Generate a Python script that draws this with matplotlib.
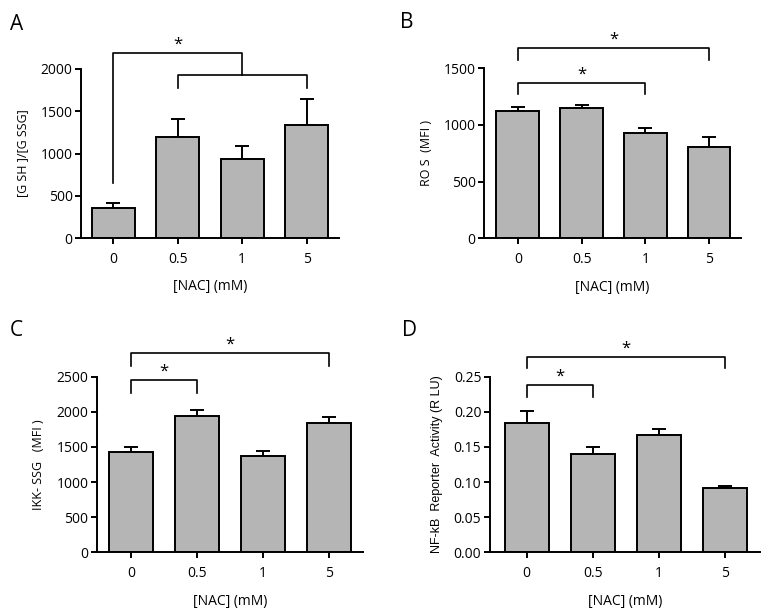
import matplotlib
matplotlib.use("Agg")
import matplotlib.pyplot as plt

plt.rcParams['font.family'] = ['Open Sans', 'DejaVu Sans']

categories = ["0", "0.5", "1", "5"]

a_values = [350, 1190, 935, 1335]
a_errors = [70, 215, 155, 305]
b_values = [1121, 1145, 925, 807]
b_errors = [33, 29, 49, 88]
c_values = [1423, 1936, 1366, 1840]
c_errors = [76, 90, 71, 91]
d_values = [0.1846, 0.140, 0.167, 0.0911]
d_errors = [0.0161, 0.010, 0.0087, 0.0033]

a_ticks = [0, 500, 1000, 1500, 2000]
b_ticks = [0, 500, 1000, 1500]
c_ticks = [0, 500, 1000, 1500, 2000, 2500]
d_ticks = [0.00, 0.05, 0.10, 0.15, 0.20, 0.25]

W, H = 766, 609
fig = plt.figure(figsize=(W / 100, H / 100), dpi=100)

def ax_at(x0, x1, ytop, ybot):
    return fig.add_axes([x0 / W, 1 - ybot / H, (x1 - x0) / W, (ybot - ytop) / H])

BAR = "#b5b5b5"
LW = 1.4

def draw(ax, vals, errs, ticks, ylabel, fmt, xlim, yfont="Open Sans"):
    x = list(range(len(categories)))
    ax.bar(x, vals, width=0.67, color=BAR, edgecolor="black", linewidth=LW, zorder=2)
    ax.errorbar(x, vals, yerr=[[0] * len(errs), errs], fmt="none", ecolor="black",
                elinewidth=LW, capsize=5, capthick=LW, zorder=1)
    ax.set_xlim(*xlim)
    ax.set_ylim(ticks[0], ticks[-1])
    ax.set_yticks(ticks)
    ax.set_yticklabels([fmt.format(t) for t in ticks])
    ax.set_xticks(x)
    ax.set_xticklabels(categories)
    for s in ("top", "right"):
        ax.spines[s].set_visible(False)
    for s in ("left", "bottom"):
        ax.spines[s].set_linewidth(LW)
    ax.tick_params(axis="both", width=LW, length=4, labelsize=10, colors="black")
    ax.tick_params(axis="y", pad=2)
    ax.tick_params(axis="x", pad=6)
    ax.set_xlabel("[NAC] (mM)", fontsize=10, labelpad=9)
    ax.set_ylabel(ylabel, fontsize=9, labelpad=8, family=[yfont, "DejaVu Sans"])

def star(ax, xs, y):
    ax.annotate("*", xy=(xs, y), xytext=(0, 6), textcoords="offset points",
                ha="center", va="center", fontsize=12, annotation_clip=False)

def bracket(ax, x0, x1, y, yleg, xstar=None):
    ax.plot([x0, x0, x1, x1], [yleg, y, y, yleg], color="black", lw=1.2, clip_on=False)
    xs = (x0 + x1) / 2 if xstar is None else xstar
    star(ax, xs, y)

# A
axA = ax_at(81, 339, 69, 238)
draw(axA, a_values, a_errors, a_ticks, "[G SH ]/[G SSG]", "{:d}", (-0.5, 3.5))
axA.plot([0, 0, 2.0, 2.0], [655, 2192, 2192, 1929], color="black", lw=1.2, clip_on=False)
axA.plot([1, 1, 3, 3], [1771, 1929, 1929, 1771], color="black", lw=1.2, clip_on=False)
star(axA, 1.0, 2192)

# B
axB = ax_at(484, 741, 68, 238.3)
draw(axB, b_values, b_errors, b_ticks, "RO S  (MFI )", "{:d}", (-0.53, 3.5))
bracket(axB, 0, 3, 1679, 1570)
bracket(axB, 0, 2, 1365, 1268, xstar=1.0)

# C
axC = ax_at(96.7, 362.7, 376.7, 552.3)
draw(axC, c_values, c_errors, c_ticks, "IKK- SSG   (MFI )", "{:d}", (-0.52, 3.51))
bracket(axC, 0, 3, 2833, 2657)
bracket(axC, 0, 1, 2453, 2272)

# D
axD = ax_at(489.7, 759.7, 376.7, 552.3)
draw(axD, d_values, d_errors, d_ticks, "NF-kB  Reporter  Activity (R LU)", "{:.2f}", (-0.56, 3.53),
     yfont="Liberation Sans")
bracket(axD, 0, 3, 0.2776, 0.262)
bracket(axD, 0, 1, 0.2377, 0.2215)

for lbl, px, py in [("A", 10, 30), ("B", 400, 28), ("C", 10, 336), ("D", 402, 336)]:
    fig.text(px / W, 1 - py / H, lbl, fontsize=15, ha="left", va="baseline")

fig.savefig("out.png", dpi=100, facecolor="white")
